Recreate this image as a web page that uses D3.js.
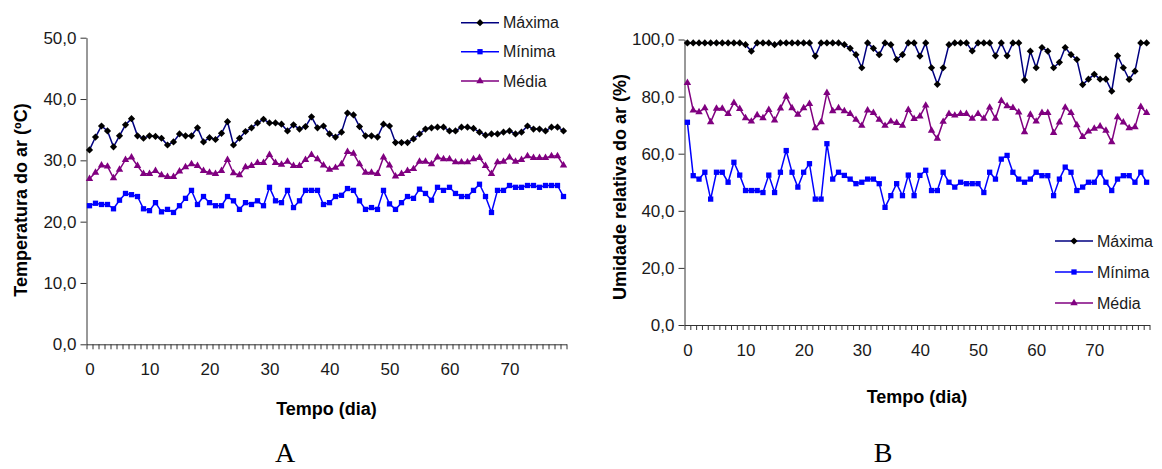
<!DOCTYPE html>
<html>
<head>
<meta charset="utf-8">
<script src="https://cdn.jsdelivr.net/npm/d3@7"></script>
<style>
  body { margin: 0; background: #fff; }
  svg { display: block; font-family: "Liberation Sans", Arial, sans-serif; }
</style>
</head>
<body>
<div id="chart"></div>
<script>
// 0. Dados // Data (dias 0..79)
const dias = d3.range(0, 80);
const rotulosX = [0, 10, 20, 30, 40, 50, 60, 70];
const ticksTemp = [0, 10, 20, 30, 40, 50];
const ticksUmid = [0, 20, 40, 60, 80, 100];
const nomesSeries = ['Máxima', 'Mínima', 'Média'];

// A - Temperatura do ar (ºC)
const tempMax = [
  31.7, 33.8, 35.6, 34.8, 32.2, 34.0, 35.8, 36.8, 34.0, 33.6,
  34.0, 33.9, 33.6, 32.5, 33.0, 34.3, 34.0, 34.0, 35.3, 33.0,
  33.7, 33.4, 34.4, 36.3, 32.5, 33.6, 34.7, 35.3, 36.1, 36.7,
  36.1, 36.1, 35.9, 34.8, 35.8, 35.1, 35.5, 37.1, 35.3, 35.6,
  34.3, 33.8, 34.6, 37.7, 37.4, 35.5, 34.0, 34.0, 33.8, 35.9,
  35.6, 32.9, 32.9, 32.9, 33.5, 34.3, 35.1, 35.3, 35.4, 35.4,
  34.8, 34.8, 35.4, 35.4, 35.2, 34.6, 34.1, 34.3, 34.3, 34.6,
  34.8, 34.3, 34.6, 35.6, 35.1, 35.1, 34.8, 35.4, 35.4, 34.8
];
const tempMin = [
  22.6, 23.0, 22.8, 22.8, 22.1, 23.5, 24.6, 24.4, 24.1, 22.1,
  21.8, 23.1, 21.6, 22.0, 21.5, 22.6, 23.8, 25.1, 22.8, 24.1,
  23.1, 22.6, 22.6, 24.1, 23.4, 22.0, 23.1, 22.8, 23.4, 22.6,
  25.6, 23.4, 23.1, 25.1, 22.3, 23.4, 25.1, 25.1, 25.1, 22.8,
  23.1, 24.1, 24.3, 25.4, 25.1, 23.4, 22.0, 22.3, 22.0, 25.1,
  22.9, 22.0, 23.1, 24.1, 23.8, 25.3, 24.6, 23.5, 25.6, 25.1,
  25.6, 24.6, 24.1, 24.1, 25.1, 26.1, 24.1, 21.5, 25.1, 25.1,
  25.9, 25.6, 25.6, 25.9, 25.9, 25.6, 25.9, 25.9, 25.9, 24.1
];
const tempMed = [
  27.0, 28.0, 29.2, 29.0, 27.1, 28.5, 30.1, 30.5, 29.1, 27.8,
  27.8, 28.3, 27.6, 27.3, 27.3, 28.2, 28.9, 29.4, 29.1, 28.3,
  28.0, 27.8, 28.3, 30.1, 27.9, 27.6, 28.9, 29.1, 29.6, 29.6,
  30.9, 29.6, 29.3, 29.8, 29.1, 29.1, 30.1, 30.9, 30.2, 29.2,
  28.5, 28.8, 29.4, 31.4, 31.1, 29.4, 28.0, 28.0, 27.8, 30.5,
  29.2, 27.4, 27.8, 28.3, 28.6, 29.8, 29.8, 29.4, 30.5, 30.2,
  30.2, 29.7, 29.7, 29.7, 30.2, 30.4, 29.1, 27.8, 29.7, 29.8,
  30.5, 29.8, 30.1, 30.7, 30.4, 30.4, 30.4, 30.7, 30.7, 29.2
];

// B - Umidade relativa do ar (%)
const umidMax = [
  98.8, 98.8, 98.8, 98.8, 98.8, 98.8, 98.8, 98.8, 98.8, 98.8,
  98.2, 95.9, 98.8, 98.8, 98.8, 98.2, 98.8, 98.8, 98.8, 98.8,
  98.8, 98.8, 94.2, 98.8, 98.8, 98.8, 98.8, 98.2, 96.9, 94.7,
  90.1, 98.8, 96.9, 94.7, 98.8, 98.2, 93.0, 94.7, 98.8, 98.8,
  94.2, 98.8, 90.1, 84.3, 90.1, 98.2, 98.8, 98.8, 98.8, 96.0,
  98.8, 98.8, 98.8, 94.3, 98.8, 94.3, 98.8, 98.8, 85.8, 95.9,
  90.1, 97.2, 95.9, 90.1, 92.0, 97.2, 94.7, 93.0, 84.2, 86.1,
  87.8, 86.1, 86.1, 81.9, 94.3, 90.1, 86.0, 88.9, 98.8, 98.8
];
const umidMin = [
  71.0, 52.3, 51.1, 53.5, 44.1, 53.5, 53.5, 50.0, 57.0, 52.5,
  47.1, 47.1, 47.1, 46.4, 52.5, 46.4, 53.5, 61.1, 53.5, 48.3,
  53.5, 56.5, 44.1, 44.1, 63.5, 51.1, 53.5, 52.4, 51.1, 49.5,
  50.0, 51.1, 51.1, 49.5, 41.2, 45.3, 49.5, 45.3, 52.5, 45.3,
  52.4, 54.2, 47.1, 47.1, 53.5, 50.0, 48.3, 50.0, 49.5, 49.5,
  49.5, 46.4, 53.5, 51.1, 58.1, 59.4, 53.5, 51.1, 50.0, 51.1,
  53.5, 52.3, 52.3, 45.3, 51.1, 55.3, 53.5, 47.1, 48.3, 50.0,
  50.0, 53.5, 50.0, 47.1, 51.1, 52.3, 52.3, 50.0, 53.5, 50.0
];
const umidMed = [
  84.8, 75.2, 74.6, 76.0, 71.1, 75.8, 75.8, 74.0, 77.8, 75.7,
  72.5, 71.3, 73.5, 72.5, 75.4, 71.7, 75.9, 80.1, 76.0, 73.7,
  76.0, 77.5, 69.0, 71.1, 81.3, 74.9, 76.0, 74.9, 74.0, 71.9,
  69.8, 75.2, 74.3, 71.9, 69.8, 71.3, 70.8, 69.8, 75.4, 72.2,
  73.1, 76.9, 68.1, 65.3, 71.2, 74.0, 73.4, 74.0, 74.0, 72.3,
  74.0, 72.3, 76.2, 72.3, 78.5, 76.7, 76.1, 74.5, 67.6, 73.7,
  71.3, 74.3, 74.3, 67.3, 71.0, 76.2, 74.3, 70.0, 65.9, 67.8,
  68.8, 69.6, 68.1, 64.1, 72.8, 71.0, 69.0, 69.3, 76.4, 74.3
];

// 1. Estilo das séries // series style
const estilos = [
  { linha: '#000080', marca: '#000000', simbolo: 'losango' },
  { linha: '#0000ff', marca: '#0000ff', simbolo: 'quadrado' },
  { linha: '#800080', marca: '#800080', simbolo: 'triangulo' }
];

const svg = d3.select('#chart').append('svg')
  .attr('width', 1162)
  .attr('height', 469);

const fmt = d => d3.format('.1f')(d).replace('.', ',');

// marcador de cada ponto // point marker
function marcador(sel, tipo, cor) {
  let p;
  if (tipo === 'losango') {
    p = sel.append('path').attr('d', d3.symbol(d3.symbolSquare, 26)()).attr('transform', 'rotate(45)');
  } else if (tipo === 'quadrado') {
    p = sel.append('path').attr('d', d3.symbol(d3.symbolSquare, 28)());
  } else {
    p = sel.append('path').attr('d', d3.symbol(d3.symbolTriangle, 24)());
  }
  p.attr('fill', cor);
}

// 2. Desenho de um painel // draw one panel
function painel(p) {
  const g = svg.append('g');

  // 2.1 escalas // scales
  const xCat = d3.scaleLinear().domain([0, 80]).range([p.left, p.right]);   // limites das categorias
  const x = d3.scaleLinear().domain([-0.5, 79.5]).range([p.left, p.right]); // centro das categorias
  const y = d3.scaleLinear().domain([0, p.yMax]).range([p.bottom, p.top]);

  // 2.2 eixo y // y axis
  const gy = g.append('g')
    .attr('transform', `translate(${p.left},0)`)
    .call(d3.axisLeft(y).tickValues(p.yTicks).tickSize(6).tickSizeOuter(0).tickPadding(4).tickFormat(fmt));
  gy.selectAll('text').style('font-size', '17px').attr('fill', '#1a1a1a');

  // 2.3 eixo x (marcas por categoria) // x category ticks
  g.append('g')
    .attr('transform', `translate(0,${p.bottom})`)
    .call(d3.axisBottom(xCat).tickValues(d3.range(0, 81)).tickSize(5).tickSizeOuter(0).tickFormat(''));

  // 2.4 rótulos do eixo x // x tick labels
  const gx = g.append('g')
    .attr('transform', `translate(0,${p.bottom})`)
    .call(d3.axisBottom(x).tickValues(rotulosX).tickSize(0).tickPadding(19));
  gx.select('.domain').remove();
  gx.selectAll('text').style('font-size', '17px').attr('fill', '#1a1a1a');

  g.selectAll('.domain, .tick line').attr('stroke', '#333').attr('stroke-width', 1);

  // 2.5 linhas e marcadores // lines and markers
  p.series.forEach((serie, k) => {
    const st = estilos[k];
    g.append('path')
      .datum(serie)
      .attr('fill', 'none')
      .attr('stroke', st.linha)
      .attr('stroke-width', 1.5)
      .attr('d', d3.line().x((d, i) => x(dias[i])).y(d => y(d)));
    g.selectAll(null)
      .data(serie)
      .enter()
      .append('g')
      .attr('transform', (d, i) => `translate(${x(dias[i])},${y(d)})`)
      .each(function() { marcador(d3.select(this), st.simbolo, st.marca); });
  });

  // 2.6 legenda // legend
  nomesSeries.forEach((nome, k) => {
    const st = estilos[k];
    const ly = p.legY[k];
    g.append('line')
      .attr('x1', p.legX).attr('x2', p.legX + 38)
      .attr('y1', ly).attr('y2', ly)
      .attr('stroke', st.linha).attr('stroke-width', 1.5);
    g.append('g')
      .attr('transform', `translate(${p.legX + 19},${ly})`)
      .each(function() { marcador(d3.select(this), st.simbolo, st.marca); });
    g.append('text')
      .attr('x', p.legX + 42).attr('y', ly)
      .attr('dominant-baseline', 'central')
      .style('font-size', '16px')
      .attr('fill', '#1a1a1a')
      .text(nome);
  });

  // 2.7 títulos // titles
  g.append('text')
    .attr('x', (p.left + p.right) / 2).attr('y', p.xTitleY)
    .attr('text-anchor', 'middle')
    .style('font-size', '18px').style('font-weight', 'bold')
    .text('Tempo (dia)');

  g.append('text')
    .attr('transform', `translate(${p.yTitleX},${p.yTitleY}) rotate(-90)`)
    .attr('text-anchor', 'middle')
    .style('font-size', '18px').style('font-weight', 'bold')
    .text(p.yTitle);

  g.append('text')
    .attr('x', p.letraX).attr('y', 462)
    .attr('text-anchor', 'middle')
    .style('font-family', '"Liberation Serif", "Times New Roman", serif')
    .style('font-size', '28px')
    .text(p.letra);
}

// 3. Painel A // panel A
painel({
  left: 86.5, right: 566.5, top: 37.7, bottom: 344.3, yMax: 50, yTicks: ticksTemp,
  series: [tempMax, tempMin, tempMed],
  legX: 461, legY: [22.7, 51.7, 81],
  xTitleY: 415, yTitleX: 27, yTitleY: 200, yTitle: 'Temperatura do ar (ºC)',
  letra: 'A', letraX: 285
});

// 4. Painel B // panel B
painel({
  left: 684.5, right: 1149.5, top: 39.5, bottom: 325, yMax: 100, yTicks: ticksUmid,
  series: [umidMax, umidMin, umidMed],
  legX: 1055, legY: [241, 272, 303],
  xTitleY: 403, yTitleX: 626, yTitleY: 187, yTitle: 'Umidade relativa do ar (%)',
  letra: 'B', letraX: 883
});
</script>
</body>
</html>
